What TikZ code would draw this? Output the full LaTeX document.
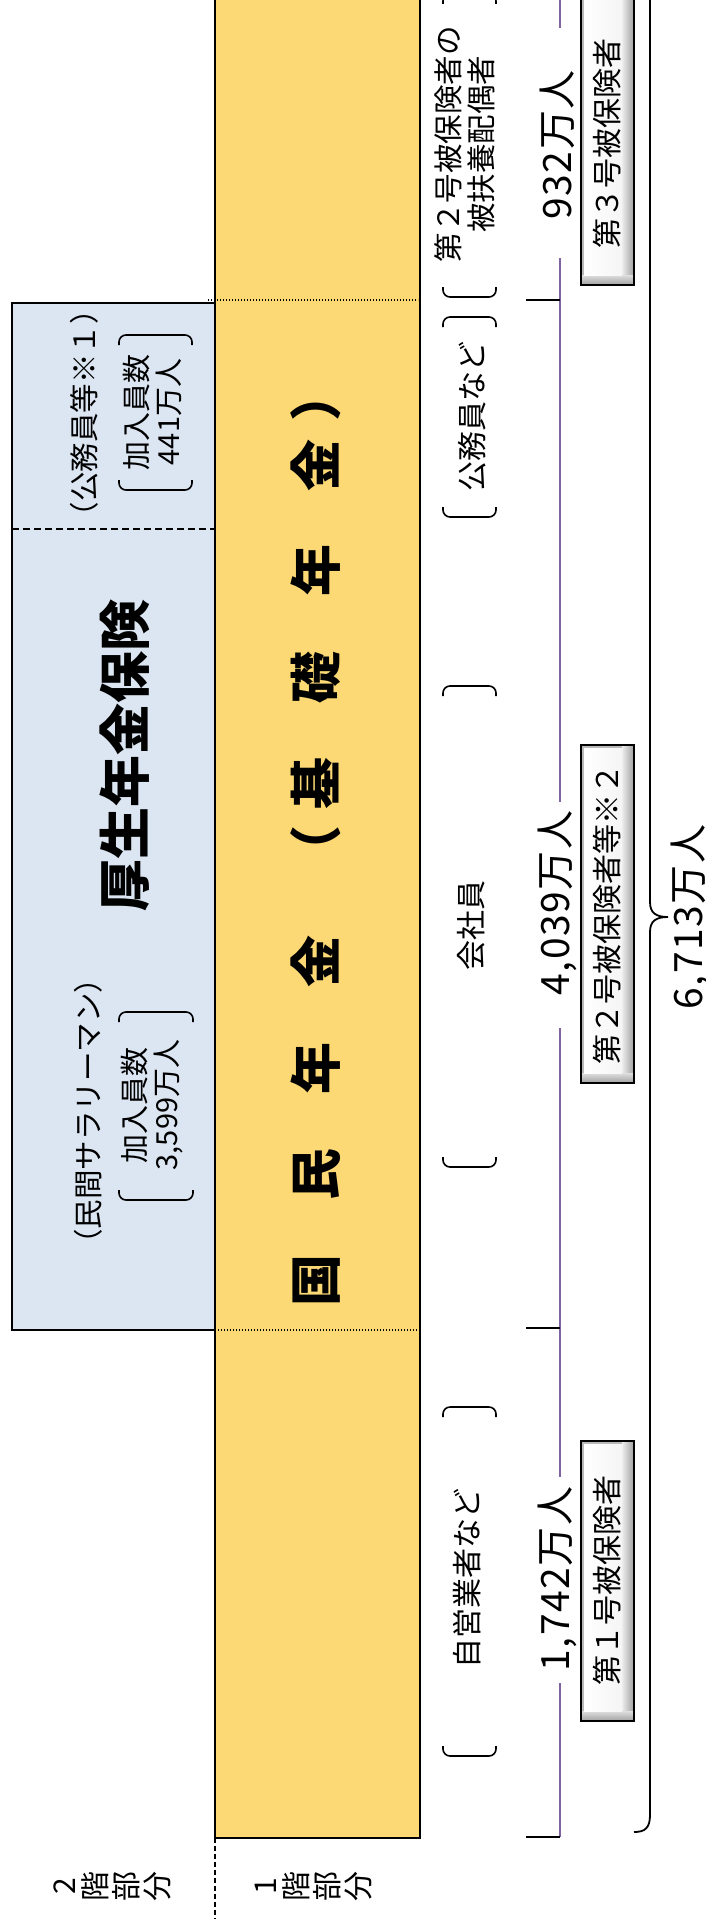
\documentclass[tikz,border=0pt]{standalone}
\usepackage{fontspec}
\setmainfont{Noto Sans CJK JP}
\definecolor{ylw}{HTML}{FDD975}
\definecolor{blu}{HTML}{DCE6F2}
\definecolor{prp}{HTML}{8064A2}
\tikzset{
  rtxt/.style={rotate=90, inner sep=0pt, align=center},
  numtxt/.style={rtxt, font=\fontsize{39}{39}\selectfont\addfontfeatures{LetterSpace=4}},
  brk/.style={line width=1.6pt, rounded corners=7pt},
  tickline/.style={line width=2.4pt},
  vline/.style={prp, line width=1.6pt},
  frame/.style={draw=black, line width=2.4pt},
  dotline/.style={line width=1.4pt, dash pattern=on 1.4pt off 1.6pt},
}
\newcommand\topbrk[3]{\draw[brk] (#1,#3+10) -- (#1,#3) -- (#2,#3) -- (#2,#3+10);}
\newcommand\botbrk[3]{\draw[brk] (#1,#3-10) -- (#1,#3) -- (#2,#3) -- (#2,#3-10);}
\newcommand\bevelbox[4]{%
  \fill[gray!55] (#1,#2) rectangle (#3,#4);
  \shade[left color=gray!15, right color=gray!75] (#3-12,#2) rectangle (#3,#4);
  \shade[top color=gray!25, bottom color=gray!75] (#1,#4-10) rectangle (#3,#4);
  \shade[left color=white, right color=gray!8] (#1+3,#2+3) rectangle (#3-12,#4-10);
  \draw[line width=2.2pt] (#1,#2) rectangle (#3,#4);
}
\begin{document}
\begin{tikzpicture}[x=1pt,y=-1pt]
\useasboundingbox (0,0) rectangle (706,1919);
\clip (0,0) rectangle (706,1919);
\fill[white] (0,0) rectangle (706,1919);

% yellow (1st floor) and blue (2nd floor)
\fill[ylw] (215,-10) rectangle (420,1838);
\draw[frame] (215,-10) -- (215,1838) -- (420,1838) -- (420,-10);
\draw[dotline] (208,300) -- (418,300);
\draw[dotline] (215,1330) -- (418,1330);
\fill[blu] (12,303) rectangle (215,1330);
\draw[frame] (12,303) rectangle (215,1330);
\draw[line width=1.8pt, dash pattern=on 7pt off 4pt] (12,529) -- (215,529);
\draw[line width=1.5pt, dash pattern=on 5pt off 3pt] (215,1838) -- (215,1919);

% blue box texts
\node[rtxt, font=\fontsize{29.5}{29.5}\selectfont] (kom) at (84,413) {（公務員等※１）};
\node[rtxt, font=\fontsize{29}{32}\selectfont] (kom2) at (152,412) {加入員数\\441万人};
\topbrk{119}{192}{335}
\botbrk{119}{192}{490}
\node[rtxt, font=\bfseries\fontsize{52}{52}\selectfont] (kosei) at (125,755) {厚生年金保険};
\node[rtxt, font=\fontsize{29.5}{29.5}\selectfont] (min) at (88,1111) {（民間サラリーマン）};
\node[rtxt, font=\fontsize{29}{32}\selectfont] (min2) at (152,1105) {加入員数\\3,599万人};
\topbrk{119}{193}{1012}
\botbrk{119}{193}{1200}

% yellow text
\foreach \c/\yy in {国/1280, 民/1174, 年/1068, 金/961, （/851, 基/783, 礎/677, 年/570, 金/465, ）/395}
  \node[rtxt, font=\bfseries\fontsize{52}{52}\selectfont, text height=45pt, text depth=7pt] (k\yy) at (316,\yy) {\c};

% category texts with brackets
\node[rtxt, font=\fontsize{29.5}{33}\selectfont] (c3) at (465,144) {第２号被保険者の\\被扶養配偶者};
\topbrk{443}{496}{-6}
\botbrk{443}{496}{297}
\node[rtxt, font=\fontsize{30}{30}\selectfont] (c2a) at (472,416) {公務員など};
\topbrk{443}{496}{317}
\botbrk{443}{496}{517}
\node[rtxt, font=\fontsize{30}{30}\selectfont] (c2b) at (471,925) {会社員};
\topbrk{443}{496}{686}
\botbrk{443}{496}{1167}
\node[rtxt, font=\fontsize{30}{30}\selectfont] (c1) at (467,1578) {自営業者など};
\topbrk{443}{496}{1407}
\botbrk{443}{496}{1756}

% counts and purple scale
\coordinate (p0) at (560,-5);
\coordinate (p1) at (560,28);
\coordinate (p2) at (560,258);
\coordinate (p3) at (560,802);
\coordinate (p4) at (560,1028);
\coordinate (p5) at (560,1477);
\coordinate (p6) at (560,1683);
\coordinate (p7) at (560,1837);
\draw[vline] (p0) -- (p1);
\draw[vline] (p2) -- (p3);
\draw[vline] (p4) -- (p5);
\draw[vline] (p6) -- (p7);
\coordinate (q1) at (526,300);
\coordinate (q2) at (526,1328);
\coordinate (q3) at (526,1837);
\draw[tickline] (q1) -- ++(34,0);
\draw[tickline] (q2) -- ++(34,0);
\draw[tickline] (q3) -- ++(34,0);
\node[numtxt] (n3) at (557,145) {932万人};
\node[numtxt] (n2) at (557,903) {4,039万人};
\node[numtxt] (n1) at (557,1579) {1,742万人};

% bevel boxes
\bevelbox{581}{-6}{634}{285}
\node[rtxt, font=\fontsize{30}{30}\selectfont] (b3) at (607,143) {第３号被保険者};
\bevelbox{581}{745}{634}{1083}
\node[rtxt, font=\fontsize{30}{30}\selectfont] (b2) at (607,914) {第２号被保険者等※２};
\bevelbox{581}{1441}{634}{1721}
\node[rtxt, font=\fontsize{30}{30}\selectfont] (b1) at (607,1580) {第１号被保険者};

% total brace
\draw[line width=1.8pt] (650,-5) -- (650,902)
  .. controls (650,913) and (656,917) .. (668,917)
  .. controls (656,917) and (650,921) .. (650,932)
  -- (650,1815) .. controls (650,1828) and (645,1832) .. (634,1832);
\node[numtxt] (tot) at (690,917) {6,713万人};

% floor labels
\node[rtxt, font=\fontsize{30}{31}\selectfont] (f2) at (112,1886) {2\\階\\部\\分};
\node[rtxt, font=\fontsize{30}{31}\selectfont] (f1) at (314,1886) {1\\階\\部\\分};
\end{tikzpicture}
\end{document}
